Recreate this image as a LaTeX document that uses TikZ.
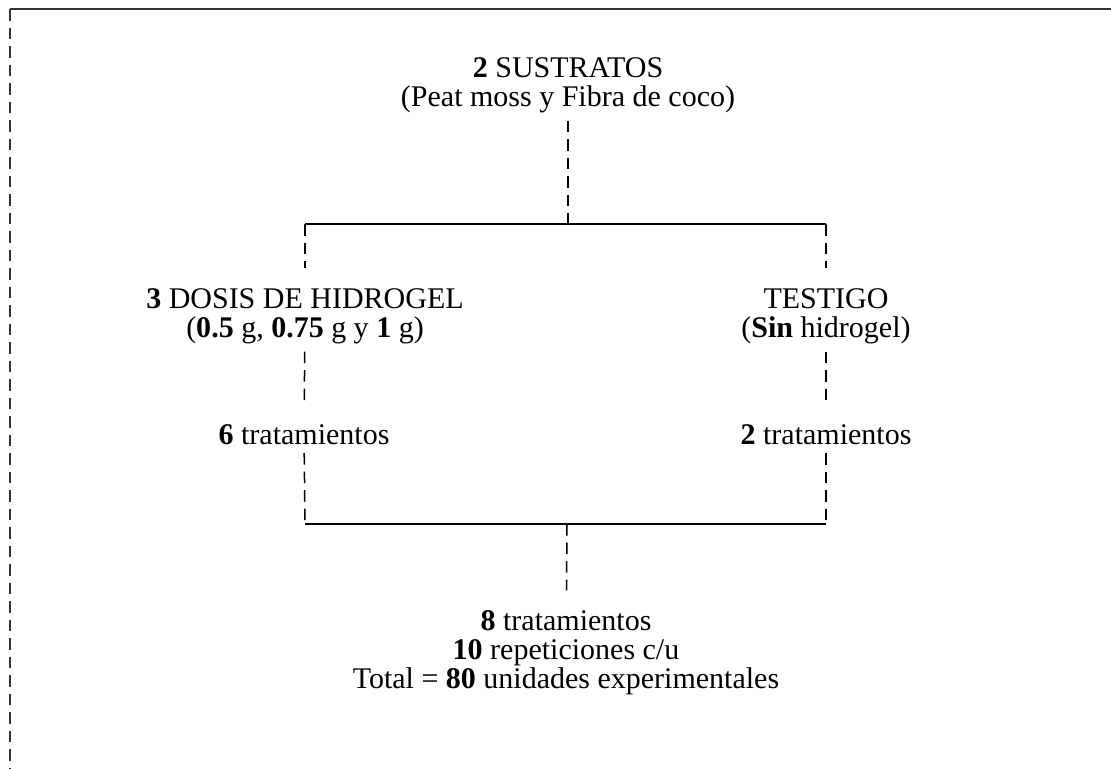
\documentclass[tikz,border=0pt]{standalone}
\usepackage{fontspec}
\setmainfont{Liberation Serif}
\begin{document}
\begin{tikzpicture}[x=0.4pt,y=-0.4pt,font=\fontsize{12}{11.6}\selectfont,line join=round,
		txt/.style={align=center,inner sep=3pt},
		guion/.style={dash pattern=on 4.6pt off 2.8pt,line width=0.6pt},
		guionin/.style={guion,shorten >=5pt},
		barra/.style={line width=0.6pt}]
	\useasboundingbox (0,0) rectangle (1111,768);
	%Marco
	\coordinate (m1) at (10,9);
	\coordinate (m2) at (1111,9);
	\coordinate (m3) at (10,768);
	\draw[line width=1.1pt,black!80] (m1)--(m2);
	\draw[guion,line width=0.8pt,black!80] (m1)--(m3);
	%Nodos
	\node[txt] (sus) at (568,85) {\textbf{2} SUSTRATOS\\(Peat moss y Fibra de coco)};
	\node[txt] (dosis) at (305,316) {\textbf{3} DOSIS DE HIDROGEL\\(\textbf{0.5} g, \textbf{0.75} g y \textbf{1} g)};
	\node[txt] (testigo) at (826,316) {TESTIGO\\(\textbf{Sin} hidrogel)};
	\node[txt] (tratA) at (304,435) {\textbf{6} tratamientos};
	\node[txt] (tratB) at (826,435) {\textbf{2} tratamientos};
	\node[txt] (total) at (566,653) {\textbf{8} tratamientos\\\textbf{10} repeticiones c/u\\Total = \textbf{80} unidades experimentales};
	%Uniones
	\coordinate (jt) at (568,224);
	\coordinate (jl) at (305,224);
	\coordinate (jr) at (826,224);
	\coordinate (bl) at (305,524);
	\coordinate (br) at (826,524);
	\coordinate (bm) at (567,524);
	\draw[guion] (sus)--(jt);
	\draw[barra] (jl)--(jr);
	\draw[guionin] (jl)--(dosis);
	\draw[guionin] (jr)--(testigo);
	\draw[guionin] (dosis)--(tratA);
	\draw[guionin] (testigo)--(tratB);
	\draw[guion] (tratA)--(bl);
	\draw[guion] (tratB)--(br);
	\draw[barra] (bl)--(br);
	\draw[guionin] (bm)--(total);
\end{tikzpicture}
\end{document}
